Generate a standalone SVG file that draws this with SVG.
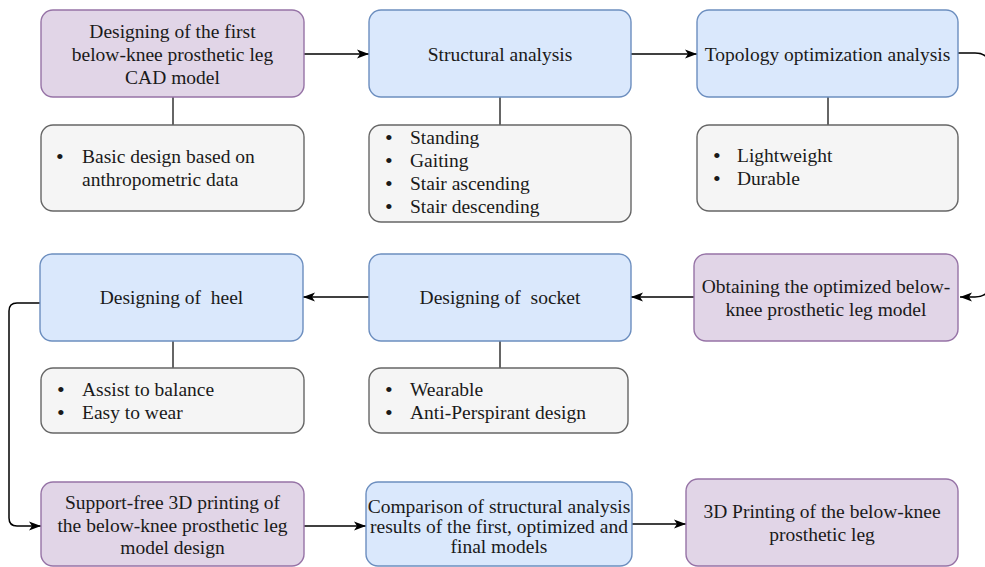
<svg xmlns="http://www.w3.org/2000/svg" width="985" height="567" viewBox="0 0 985 567">
<style>
text { font-family: "Liberation Serif", "Times New Roman", serif; font-size: 19.5px; fill: #1a1a1a; white-space: pre; }
.c { text-anchor: middle; }
.b { font-size: 22px; }
.purple { fill: #e1d5e7; stroke: #9673a6; stroke-width: 1.4; }
.blue { fill: #dae8fc; stroke: #6c8ebf; stroke-width: 1.4; }
.gray { fill: #f5f5f5; stroke: #666666; stroke-width: 1.4; }
.link { fill: none; stroke: #000000; stroke-width: 1.5; }
.arrow { marker-end: url(#ah); }
.stem { fill: none; stroke: #333333; stroke-width: 1.5; }
</style>
<defs>
<marker id="ah" markerUnits="userSpaceOnUse" markerWidth="13" markerHeight="10" viewBox="0 0 13 10" refX="12" refY="5" orient="auto">
<path d="M0,0.5 L12,5 L0,9.5 L3,5 Z" fill="#000000"/>
</marker>
</defs>
<rect width="985" height="567" fill="#ffffff"/>
<g id="connectors">
<path class="link arrow" d="M304,54 L369,54"/>
<path class="link arrow" d="M631,54 L697,54"/>
<path class="link arrow" d="M958,53 H975 Q990,53 990,68 V282 Q990,297 975,297 H960"/>
<path class="link arrow" d="M694,297 L631,297"/>
<path class="link arrow" d="M369,297 L303,297"/>
<path class="link arrow" d="M40,303 H17 Q9,303 9,311 V518 Q9,526 17,526 H41"/>
<path class="link arrow" d="M304,526 L366,526"/>
<path class="link arrow" d="M632,524 L686,524"/>
<path class="stem" d="M173,97 V125"/>
<path class="stem" d="M500,97 V125"/>
<path class="stem" d="M828,97 V125"/>
<path class="stem" d="M500,341 V368"/>
<path class="stem" d="M173,341 V368"/>
</g>
<g id="n1">
<rect class="purple" x="41" y="10" width="263" height="87" rx="12"/>
<text class="c" x="172.5" y="37.5">Designing of the first</text>
<text class="c" x="172.5" y="60.5">below-knee prosthetic leg</text>
<text class="c" x="172.5" y="83.5">CAD model</text>
</g>
<g id="n1sub">
<rect class="gray" x="41" y="125" width="263" height="86" rx="12"/>
<text class="b" x="56" y="164">•</text><text x="82" y="163">Basic design based on</text>
<text x="82" y="186">anthropometric data</text>
</g>
<g id="n2">
<rect class="blue" x="369" y="10" width="262" height="87" rx="12"/>
<text class="c" x="500" y="61">Structural analysis</text>
</g>
<g id="n2sub">
<rect class="gray" x="369" y="125" width="262" height="97" rx="12"/>
<text class="b" x="385" y="145">•</text><text x="410" y="144">Standing</text>
<text class="b" x="385" y="168">•</text><text x="410" y="167">Gaiting</text>
<text class="b" x="385" y="191">•</text><text x="410" y="190">Stair ascending</text>
<text class="b" x="385" y="214">•</text><text x="410" y="213">Stair descending</text>
</g>
<g id="n3">
<rect class="blue" x="697" y="10" width="261" height="87" rx="12"/>
<text class="c" x="827.5" y="61">Topology optimization analysis</text>
</g>
<g id="n3sub">
<rect class="gray" x="697" y="125" width="261" height="86" rx="12"/>
<text class="b" x="713" y="163">•</text><text x="737" y="162">Lightweight</text>
<text class="b" x="713" y="186">•</text><text x="737" y="185">Durable</text>
</g>
<g id="n4">
<rect class="purple" x="694" y="254" width="264" height="87" rx="12"/>
<text class="c" x="826" y="293">Obtaining the optimized below-</text>
<text class="c" x="826" y="316">knee prosthetic leg model</text>
</g>
<g id="n5">
<rect class="blue" x="369" y="254" width="262" height="87" rx="12"/>
<text class="c" x="500" y="304">Designing of  socket</text>
</g>
<g id="n5sub">
<rect class="gray" x="369" y="368" width="259" height="65" rx="12"/>
<text class="b" x="385" y="397">•</text><text x="410" y="396">Wearable</text>
<text class="b" x="385" y="420">•</text><text x="410" y="419">Anti-Perspirant design</text>
</g>
<g id="n6">
<rect class="blue" x="40" y="254" width="263" height="87" rx="12"/>
<text class="c" x="171.5" y="304">Designing of  heel</text>
</g>
<g id="n6sub">
<rect class="gray" x="41" y="368" width="263" height="65" rx="12"/>
<text class="b" x="57" y="397">•</text><text x="82" y="396">Assist to balance</text>
<text class="b" x="57" y="420">•</text><text x="82" y="419">Easy to wear</text>
</g>
<g id="n7">
<rect class="purple" x="41" y="482" width="263" height="84" rx="12"/>
<text class="c" x="172.5" y="509">Support-free 3D printing of</text>
<text class="c" x="172.5" y="531.5">the below-knee prosthetic leg</text>
<text class="c" x="172.5" y="554">model design</text>
</g>
<g id="n8">
<rect class="blue" x="366" y="482" width="266" height="84" rx="12"/>
<text class="c" x="499" y="513">Comparison of structural analysis</text>
<text class="c" x="499" y="533">results of the first, optimized and</text>
<text class="c" x="499" y="553">final models</text>
</g>
<g id="n9">
<rect class="purple" x="686" y="479" width="272" height="87" rx="12"/>
<text class="c" x="822" y="518">3D Printing of the below-knee</text>
<text class="c" x="822" y="541">prosthetic leg</text>
</g>
</svg>
